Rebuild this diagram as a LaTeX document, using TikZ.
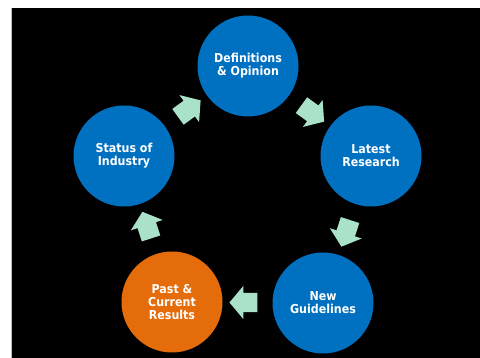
\documentclass[tikz,border=0pt]{standalone}
\usepackage{fontspec}
\newfontfamily\cyclefont{DejaVu Sans}[FakeStretch=0.9]
\usepackage{tikz}
\usetikzlibrary{shapes.arrows,calc}
\definecolor{ringblue}{HTML}{0070C0}
\definecolor{ringorange}{HTML}{E46C0A}
\definecolor{mint}{HTML}{A9E2C9}
\tikzset{
  stage/.style={circle, fill=ringblue, text=white, inner sep=0pt,
    minimum size=101pt, align=center,
    font=\cyclefont\bfseries\fontsize{12.3}{12.8}\selectfont},
  nowstage/.style={stage, fill=ringorange},
  turn/.style={single arrow, fill=mint, inner xsep=0pt, inner ysep=9.5pt,
    minimum height=28pt,
    single arrow head extend=7pt, single arrow tip angle=100},
}
\begin{document}
\begin{tikzpicture}[x=1pt,y=1pt]
    % Page and backdrop
    \useasboundingbox (0,0) rectangle (480,358);
    \fill[white] (0,0) rectangle (480,358);
    \fill[black] (12,0) rectangle (480,350);
    \draw[gray!50, line width=0.6pt] (11.7,0) -- (11.7,350);
    % Stages
    \node[stage] (def) at (248,292) {Definitions\\\& Opinion};
    \node[stage] (lat) at (371,202) {Latest\\Research};
    \node[stage] (gui) at (323,55) {New\\Guidelines};
    \node[nowstage] (res) at (172,56) {Past \&\\Current\\Results};
    \node[stage] (ind) at (124,202) {Status of\\Industry};
    % Arrows between stages
    \node[turn, rotate=-36] at ($(def)!0.5!(lat)$) {};
    \node[turn, rotate=-108] at ($(lat)!0.5!(gui)$) {};
    \node[turn, rotate=180] at ($(gui)!0.5!(res)$) {};
    \node[turn, rotate=108] at ($(res)!0.5!(ind)$) {};
    \node[turn, rotate=36] at ($(ind)!0.5!(def)$) {};
\end{tikzpicture}
\end{document}
